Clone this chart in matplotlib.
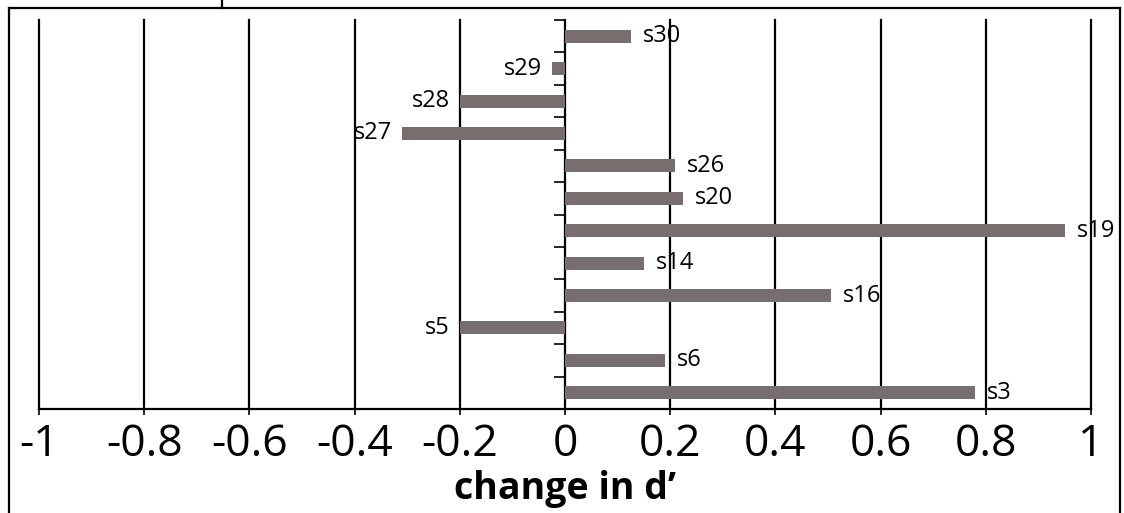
import matplotlib.pyplot as plt
from matplotlib.lines import Line2D

# subjects from bottom to top, with change in d'
subjects = ['s3', 's6', 's5', 's16', 's14', 's19', 's20', 's26', 's27', 's28', 's29', 's30']
change = [0.78, 0.19, -0.20, 0.505, 0.15, 0.95, 0.225, 0.21, -0.31, -0.20, -0.025, 0.125]
xticks = [-1, -0.8, -0.6, -0.4, -0.2, 0, 0.2, 0.4, 0.6, 0.8, 1]
xtick_labels = ['-1', '-0.8', '-0.6', '-0.4', '-0.2', '0', '0.2', '0.4', '0.6', '0.8', '1']

plt.rcParams['font.family'] = ['Open Sans', 'DejaVu Sans']
plt.rcParams['axes.unicode_minus'] = False

fig = plt.figure(figsize=(11.24, 5.13), dpi=100)
ax = fig.add_axes([39 / 1124, 104 / 513, 1052 / 1124, 389 / 513])

pos = list(range(len(subjects)))
ax.barh(pos, change, height=0.4, color='#786e6e', zorder=3)

for y, v, name in zip(pos, change, subjects):
    if v >= 0:
        ax.annotate(name, (v, y), xytext=(8.5, 0), textcoords='offset points',
                    ha='left', va='center', fontsize=17, annotation_clip=False, zorder=4)
    else:
        ax.annotate(name, (v, y), xytext=(-7, 0), textcoords='offset points',
                    ha='right', va='center', fontsize=17, annotation_clip=False, zorder=4)

ax.set_xlim(-1, 1)
ax.set_ylim(-0.5, len(subjects) - 0.5)

# vertical gridlines
for x in xticks:
    if x != 0:
        ax.axvline(x, color='black', lw=1.6, zorder=1, clip_on=False)

ax.spines['top'].set_visible(False)
ax.spines['right'].set_visible(False)
ax.spines['left'].set_position(('data', 0))
ax.spines['left'].set_linewidth(1.6)
ax.spines['bottom'].set_linewidth(1.6)

ax.set_xticks(xticks)
ax.set_xticklabels(xtick_labels, fontsize=32)
ax.tick_params(axis='x', length=4, width=1.2, pad=6)

ax.set_yticks([p - 0.5 for p in pos] + [len(subjects) - 0.5])
ax.set_yticklabels([])
ax.tick_params(axis='y', direction='out', length=8, width=1.2)

ax.set_xlabel('change in d\u2019', fontsize=27, fontweight='bold', labelpad=2)

# outer frame of the panel
fig.add_artist(Line2D([9 / 1124, 9 / 1124], [0, 1 - 8 / 513], color='black', lw=1.6))
fig.add_artist(Line2D([1120 / 1124, 1120 / 1124], [0, 1 - 8 / 513], color='black', lw=1.6))
fig.add_artist(Line2D([9 / 1124, 1120 / 1124], [1 - 8 / 513, 1 - 8 / 513], color='black', lw=1.6))
fig.add_artist(Line2D([222 / 1124, 222 / 1124], [1 - 8 / 513, 1], color='black', lw=1.6))

fig.savefig('out.png', dpi=100)
